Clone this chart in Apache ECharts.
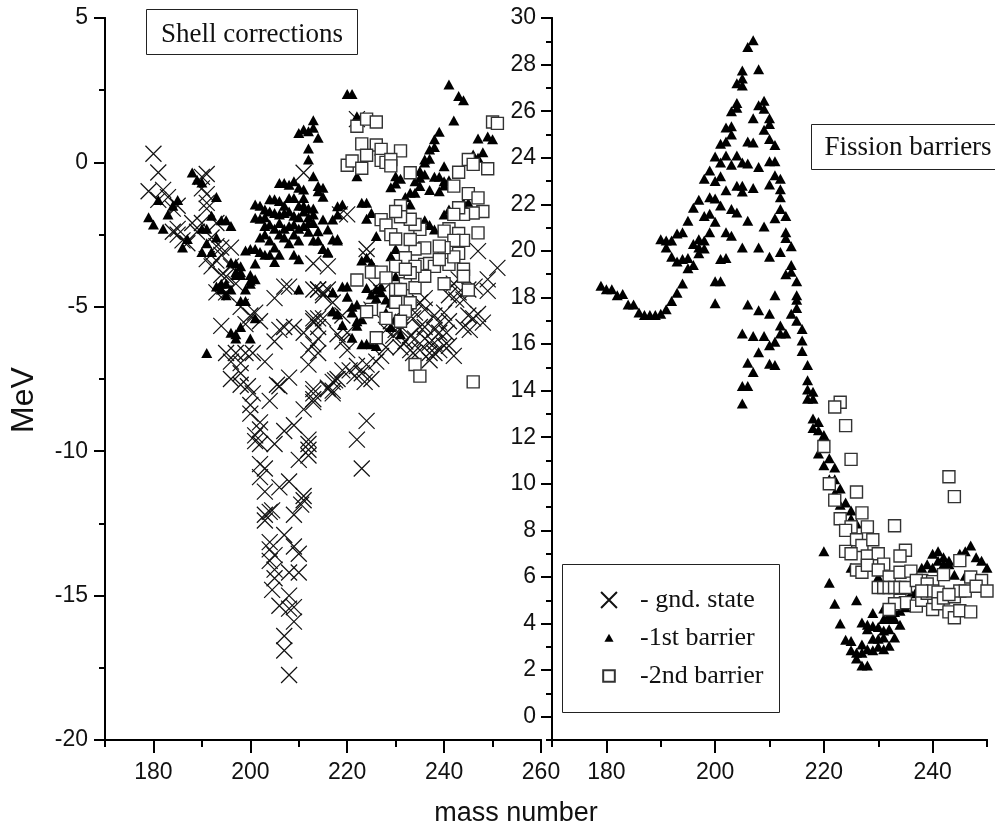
<!DOCTYPE html>
<html>
<head>
<meta charset="utf-8">
<style>html,body{margin:0;padding:0;background:#fff}#main{width:995px;height:825px}</style>
<script src="https://cdn.jsdelivr.net/npm/echarts@6/dist/echarts.min.js"></script>
</head>
<body>
<div id="main"></div>
<script>
// all points are [mass number, MeV]
var shellCross = [
[180,.3],[181,-.35],[179,-1],[182,-.95],[181,-1.3],[183,-1.2],[184,-1.6],[185,-1.5],[190,-.5],[191,-.4],[190,-.9],[191,-1.1],[191,-1.6],[191,-1.4],
[188,-2.1],[190,-2.1],[193,-2.1],[185,-2.5],[184,-2.4],[186,-2.7],[185,-2.3],[187,-2.8],[189,-2.4],[192,-2.6],[193,-2.9],
[191,-3.35],[192,-3.6],[194,-2.95],[196,-2.95],[193,-3.4],[194,-3.2],[195,-3.95],[193,-4.5],[195,-4.5],[194,-3.9],[196,-3.6],[197,-4.2],
[205,-4.7],[207,-4.3],[208,-4.3],[198,-5],[200,-5.3],[202,-5.5],[194,-5.66],[206,-5.8],[207,-5.7],[209,-5.7],[205,-6.2],[199,-5.6],[201,-5.2],
[195,-6.6],[197,-6.6],[199,-6.6],[200.5,-6.6],[196,-6.9],[203,-6.9],[198,-6.95],[198,-7.3],[196,-7.5],[198,-7.7],[199.5,-7.75],[200.5,-8],
[212,-7],[208,-7.45],[205.5,-7.7],[213,-7.85],[213,-8],[217,-7.6],[217,-7.9],[213,-3.5],[216,-3.6],[213,-4.4],[214,-4.4],[216,-4.4],[215,-4.6],
[214,-5.4],[215,-5.4],[213,-5.4],[219,-5.3],[211,-5.9],[214,-6.1],[214,-6.6],[213,-6.3],[212,-6.5],[220,-5.9],
[204,-8.26],[200,-8.4],[200,-8.7],[206,-7.75],[211,-8.55],[213,-8.2],[213,-8.3],[224,-8.95],[222,-9.6],[223,-10.6],[217,-8],[216,-7.8],
[202,-9],[202,-9.25],[201,-9.45],[201,-9.65],[202,-9.75],[205,-9.75],[207,-9.3],[209,-9.1],[212,-9.6],[212,-9.75],[212,-9.95],[210,-10.3],[212,-10.15],
[202,-10.45],[203,-10.6],[202,-10.9],[203,-11.4],[206,-11.25],[208,-11.05],[211,-11.55],[211,-11.7],[210.5,-11.85],[209,-12.2],[204,-12.1],[203,-12.2],[204.5,-12.05],[203,-12.4],
[204,-13.15],[207,-12.9],[209,-13.3],[210,-13.55],[204,-13.4],[204,-13.8],[205,-13.6],[205,-14.1],[205,-14.4],[204.5,-14.8],[208,-14.2],[210,-14.2],
[208,-15],[206,-15.35],[208,-15.45],[209,-15.4],[209,-15.9],[207,-16.4],[207,-16.9],[208,-17.75],
[211,-.36],[222,1.5],[218.5,-1.8],[220,-1.8],[224,-3.25],[224,-3.0],[247,-3.07],[251,-3.65],[249,-4.05],[249,-4.45],
[214,-4.4],[215,-4.5],[217,-4.85],[213,-5.5],[214,-5.7],[219,-6.2],[220,-6.5],[218,-5.95],[222,-7.05],[220.5,-7.2],[223,-7.3],[225,-7.5],[217.5,-7.55],[216,-7.85],
[219,-7.2],[218,-7.5],[221.5,-7.4],[223.6,-7.6],[227,-6.7],[228,-6.4],[229.5,-6],[231,-5.8],[226,-6.9],[224,-7],
[235,-4.85],[236,-5.1],[238,-5.3],[239,-5.55],[240.5,-5.9],[242,-6.7],[233.6,-5.4],[235,-5.7],[236,-5.7],[238,-5.8],[239,-5.9],[233,-6],[234,-6.1],[236,-6.1],
[237,-6.25],[238,-6.25],[240,-6.35],[241,-6.35],[233.6,-6.6],[235,-6.5],[237,-6.6],[238,-6.6],[239,-6.5],[233,-6.5],[237,-6.85],[240,-5.2],[241,-5.5],[234,-5.2],[236,-4.7],
[243,-4.05],[242,-4.2],[243,-4.5],[244,-4.75],[245,-4.4],[246.3,-4.3],[242.5,-4.75],[245,-5.3],[244,-5.7],[246,-5.4],[247,-5.25],[248,-5.55],[245.3,-5.8],[241,-4.6],
[227,-4.5],[226,-4.3],[228,-5.8],[230,-5.8],[232,-6.2],[231,-6.4],[229,-5.5],[225,-5.1]
];
var shellTri = [
[179,-1.9],[180,-2.15],[182,-2.3],[181,-1.3],[183,-1.8],[184,-1.5],[185,-1.3],[186,-2.95],[187,-2.65],[188,-.35],[189,-.6],[190,-.7],[193,-1.2],
[190,-2.3],[191,-2.3],[191,-2.8],[190,-3.1],[192,-1.85],[192,-3.1],[191,-6.6],[194,-2],[195,-2],[196,-2.2],[193,-2.6],
[194,-4.2],[195,-4.2],[196,-4.4],[195,-4.6],[197,-3.5],[198,-3.6],[198,-3.9],[197,-3.9],[199,-3.05],[200,-3],[201,-3],[202,-3.1],[203,-3.2],[201,-3.5],
[200,-3.9],[201,-4.05],[200,-4.2],[199,-4.4],[198,-4.8],[199,-4.8],[201,-5.4],[198,-5.7],[196,-5.9],[197,-5.95],[197,-6.1],[200,-6.1],
[196,-3.47],[197,-3.8],[198,-3.8],[193,-4.3],[194,-4.4],[204,-3.2],[206,-3.2],[205,-3.45],[209,-3.2],[210,-3.35],[204,-2.7],[205,-2.95],[208,-2.8],
[215,-3],[216,-3.1],[213,-2.7],[218,-2.7],[210,-4.4],[217,-4.5],[217,-5.15],[218,-5.26],[200,-4.1],
[213,1.46],[210,1.02],[211,1.14],[212,1.08],[213,1.2],[214,.85],[212,.48],[212,.1],[213,-.48],[206,-.71],[207,-.71],[208,-.77],[209,-.65],[210,-.88],[211,-.94],
[214,-.82],[215,-.88],[214,-1],[215,-1.19],[211,-1.5],[213,-1.8],[215,-1.98],[216,-2.32],[217,-1.98],[218,-1.52],[219,-1.46],[218,-1.8],[217,-2.67],[218,-2.65],
[215,-3],[216,-3.13],[214,-2.38],[212,-2.1],
[201,-1.46],[202,-1.5],[203,-1.63],[204,-1.28],[205,-1.28],[206,-1.34],[207,-1.5],[208,-1.23],[209,-1.23],[210,-1.5],[211,-1.23],[212,-1.6],
[201,-1.92],[202,-1.95],[203,-1.9],[204,-1.7],[205,-1.75],[206,-1.8],[207,-1.75],[208,-1.7],[209,-1.85],[210,-1.9],[211,-1.7],[212,-1.9],[213,-1.6],
[203,-2.2],[204,-2.15],[205,-2.3],[206,-2.1],[207,-2.3],[208,-2.2],[209,-2.15],[210,-2.3],[211,-2.2],[212,-2.4],[213,-2.1],[214,-2.7],
[202,-2.6],[203,-2.5],[206,-2.5],[207,-2.6],[209,-2.5],[210,-2.7],
[220,2.37],[221,2.37],[222,1.6],[223,-1.4],[224,-1.4],[225,-1.75],[224,-1.95],[226,-2.55],[223,-3.4],[224,-3.3],[225,-3.48],[229,-3.25],[230,-3],
[241,2.7],[243,2.3],[244,2.15],[242,1.45],[239,1.06],[238,.8],[238,.53],[237,.45],[236,.1],[237,.13],[236,0],[240,-.13],[247,.83],[249,.9],[250,.8],[248,.35],[246,.27],[247,.16],
[222,-.48],[229,-.86],[230,-.48],[230,-.73],[231,-.57],[233,-1.05],[232,-1.2],[234,-1.05],[235,-.3],[235,-.53],[236,-.42],[234,-.65],[235,-.82],[237,-.96],[238,-.5],[239,-.5],[239,-1],[240,-.65],[241,-.62],[240,-.8],
[233,-1.46],[236,-2],[237,-2.17],[238,-2.32],[240,-1.8],[241,-1.63],[244,-1.4],[245,-1.4],
[219,-4.3],[220,-4.3],[220,-4.65],[224,-4.35],[217,-4.5],[217,-5.15],[218,-5.26],[219,-5.63],[221,-5],[222,-4.92],[221,-5.2],[222,-5.5],[223,-5.43],[222,-5.66],[221,-6.07],
[223,-6.3],[224,-6.28],[225,-6.3],[226,-6.36],[226,-4.4],[227,-4.5],[225,-4.57],[226,-4.7],[228,-4.75],[227,-4.3],[230,-3.94],[229,-4.86],[231,-5.95],[230,-5.4],[228,-5.2],[229,-5.7]
];
var shellSquare = [
[222,1.25],[224,1.5],[226,1.4],[250,1.4],[251,1.35],[223,.64],[226,.6],[227,.45],[231,.4],[220,-.1],[221,.05],[224,.25],[223,-.2],[227,.07],[228,0],[229,.1],[229,-.12],
[233,-.36],[243,-.34],[245,.1],[246,-.07],[249,-.22],[242,-.82],[245,-1.08],[247,-1.23],[248,-1.7],[246,-1.75],[244,-1.8],[243,-1.57],[242,-1.8],[247,-2.44],[241,-2.3],[240,-2.38],
[243,-2.46],[244,-2.7],[242,-2.7],[241,-3.53],[243,-3.15],[242,-3.27],[240,-2.95],[239,-2.9],[236,-2.96],[234,-3],[235,-2.32],[234,-2.15],[233,-1.97],[231,-1.5],[231,-1.88],[230,-1.7],
[227,-1.98],[228,-2.17],[229,-2.5],[230,-2.65],[233,-2.67],[232,-3.3],[230,-3.6],[225,-3.8],[227,-3.8],[228,-4],[222,-4.07],[236,-3.53],[237,-3.5],[238,-3.6],[239,-3.36],[244,-3.7],[244,-3.94],
[240,-4.2],[245,-4.42],[232,-4.2],[234,-4.34],[236,-3.94],[234,-3.6],[233,-3.82],[232,-3.7],[230,-4.4],[231,-4.4],[233,-4.86],[230,-4.84],[232,-5.15],[225,-5.09],[224,-5.17],[228,-5.4],[231,-5.5],
[226,-6.07],[234,-7],[235,-7.4],[246,-7.6]
];
var fissionTri = [
[179,18.5],[180,18.35],[181,18.35],[182,18.1],[183,18.15],[184,17.7],[185,17.7],[186,17.35],[187,17.25],[188,17.25],[189,17.25],[190,17.3],[191,17.5],[192,17.85],[193,18.2],[194,18.6],
[190,20.5],[191,20.45],[192,20.45],[191,20.15],[193,20.75],[194,20.8],[192,19.75],[193,19.55],[194,19.65],[195,19.7],[195,19.25],[196,19.4],[196,20.3],[197,20.5],[198,20.45],[197,20.15],[198,20.1],[197,19.9],[199,20.8],
[195,21.3],[196,21.85],[197,22.2],[198,21.5],[199,21.6],[200,21.25],[199,22.3],[200,22.25],[201,21.95],[202,20.8],[203,20.65],[203,21.8],[204,21.65],[201,19.65],[202,19.7],[200,18.7],[201,18.7],[200,17.75],
[198,23.1],[199,23.45],[200,23],[201,23.2],[202,22.6],[200,24.05],[201,23.8],[202,24.1],[203,23.7],[204,24.1],[205,23.8],[206,23.75],[204,22.8],[205,22.8],[205,22.55],[207,22.7],[208,23.6],
[210,23.85],[211,23.85],[210,22.85],[211,23.25],[212,23.1],[212,22.65],[212,22.3],[212,21.8],[211,21.4],[213,21.5],[209,21.05],[206,21.3],[213,20.8],[213,20.55],[214,20.2],[212,19.95],[210,19.75],[208,20.15],[205,20.15],
[214,19.4],[214,19.1],[213,19],[215,18.7],[215,18.1],[215,17.9],[215,17.55],[214,17.3],[215,17],[216,16.65],[216,16.15],[216,15.7],[217,15.1],[217,14.45],[217,14.05],[218,13.95],[217,13.65],[218,13.65],
[218,12.8],[219,12.65],[218,12.4],[219,12.3],[220,12.1],
[207,29.05],[206,28.75],[205,27.75],[208,27.8],[205,27.4],[204,27.2],[205,27.1],[204,26.35],[204,26.15],[203,26],[208,26.25],[209,26.45],[209,26.1],[207,25.7],[210,25.7],[210,25.45],[209,25.2],
[202,25.3],[203,25.35],[203,25],[202,24.7],[201,24.6],[206,24.7],[207,24.65],[210,24.8],[211,24.55],
[211,18.1],[206,17.7],[208,17.45],[210,17.3],[205,16.45],[207,16.35],[209,16.35],[212,16.8],[212,16.45],[213,16.45],[211,16.1],[210,15.95],[208,15.65],[206,15.2],[210,15.15],[211,15.1],[207,14.8],[205,14.2],[206,14.2],[205,13.45],
[219,11.3],[220,11.6],[221,11.1],[220,10.8],[222,10.7],[221,10.2],[222,10.2],[223,9.8],[222,9.6],[224,9.2],[223,9.1],[225,8.85],[225,8.5],[226,8.3],[220,7.1],[225,6.4],[221,5.75],[222,4.85],[226,5],[223,4],
[224,3.3],[225,3.25],[225,2.85],[226,2.5],[226,2.75],[227,2.2],[228,2.2],[227,3.1],[228,2.9],[227,2.75],[229,2.85],[230,3],[231,2.9],[232,3.05],[229,3.35],[230,3.35],[231,3.4],[233,3.4],[228,3.75],[227,4.05],[228,3.95],[229,3.9],[230,3.85],[231,3.7],[232,3.75],[234,3.95],
[229,4.45],[231,4.2],[232,4.2],[233,4.2],[231,4.65],[232,4.4],[233,4.5],[234,4.55],[235,4.7],[236,5.3],[237,5.4],[238,5.5],
[238,6.4],[239,6.55],[240,7],[241,7.1],[242,6.85],[243,6.7],[244,6.1],[245,7],[246,7.1],[247,7.35],[248,6.85],[249,6.7],[250,6.4],[240,6.4],[241,6.7],[242,6.55],[243,6.55],[246,6.05],[230,6],[234,6.2]
];
var fissionSquare = [
[223,13.5],[222,13.3],[224,12.5],[225,11.05],[220,11.6],[221,10],[222,9.3],[226,9.65],[223,8.5],[227,8.75],[225,8.15],[224,8],[228,8.15],[233,8.2],[243,10.3],[244,9.45],
[226,7.6],[227,7.35],[229,7.6],[224,7.1],[225,7],[228,6.9],[230,7],[231,6.55],[235,7.15],[234,6.9],[226,6.3],[227,6.2],[228,6.5],[230,6.3],[232,6],[234,6.2],[236,6.25],[238,5.85],[240,5.8],[242,6.1],[245,6.7],[247,6],[249,5.85],
[230,5.55],[231,5.55],[232,5.55],[233,5.55],[234,5.55],[235,5.55],[237,5.85],[239,5.7],[234,5],[235,4.9],[233,4.85],[232,4.6],[237,4.75],[238,5],[239,5.3],[240,5.4],[240,4.6],[241,5.35],[241,4.85],[242,5.1],[243,4.5],[244,4.25],[244,5.15],[245,4.55],[247,4.5],[245,5.4],[246,5.4],[248,5.6],[250,5.4],[243,5.25],[238,5.4]
];

var leftTicksMajor = [180, 200, 220, 240, 260];
var leftTicksMinor = [170, 190, 210, 230, 250];
var rightTicksMajor = [180, 200, 220, 240];
var rightTicksMinor = [170, 190, 210, 230, 250];
var barrierTicksMajor = [0, 2, 4, 6, 8, 10, 12, 14, 16, 18, 20, 22, 24, 26, 28, 30];
var barrierTicksMinor = [-1, 1, 3, 5, 7, 9, 11, 13, 15, 17, 19, 21, 23, 25, 27, 29];

// 主刻度和次刻度长度不一样，所以同一个网格放两根轴
function makeAxis(grid, min, max, ticks, len, showLabel, pos, margin) {
    return {
        type: 'value',
        gridIndex: grid,
        min: min,
        max: max,
        position: pos,
        splitLine: { show: false },
        axisLine: { show: true, onZero: false, lineStyle: { color: '#000', width: 2 } },
        axisTick: { show: true, length: len, customValues: ticks, lineStyle: { color: '#000', width: 2 } },
        axisLabel: { show: showLabel, customValues: ticks, margin: margin, hideOverlap: false, showMinLabel: true, showMaxLabel: true, fontFamily: 'Liberation Sans', fontSize: 23, color: '#111' }
    };
}

var crossIcon = 'path://M0 0L16 16M16 0L0 16';
var triIcon = 'path://M5.5 0L11 10L0 10Z';
// 图例里的符号比图上的小，用空的moveto把包围盒撑大
var legendCross = 'path://M0 0M18 18M2.5 2.5L15.5 15.5M15.5 2.5L2.5 15.5';
var legendTri = 'path://M0 0M18 18M9 5.5L12.75 12L5.25 12Z';
var legendSquare = 'path://M0 0M18 18M4.25 4.25L13.75 4.25L13.75 13.75L4.25 13.75Z';

var crossStyle = { color: 'rgba(0,0,0,0)', borderColor: '#111', borderWidth: 1.2, opacity: 1 };
var triStyle = { color: '#000', opacity: 1 };
var squareStyle = { color: '#fff', borderColor: '#333', borderWidth: 1.4, opacity: 1 };

function makeSeries(name, data, grid, symbol, size, style, z) {
    return {
        name: name,
        type: 'scatter',
        xAxisIndex: grid,
        yAxisIndex: grid,
        data: data,
        symbol: symbol,
        symbolSize: size,
        itemStyle: style,
        silent: true,
        animation: false,
        z: z
    };
}

var option = {
    animation: false,
    backgroundColor: '#fff',
    grid: [
        { left: 105, top: 18, width: 436, height: 722 },
        { left: 552, top: 18, width: 435, height: 722 }
    ],
    xAxis: [
        makeAxis(0, 170, 260, leftTicksMajor, 13, true, 'bottom', 21),
        makeAxis(1, 170, 250, rightTicksMajor, 13, true, 'bottom', 21),
        makeAxis(0, 170, 260, leftTicksMinor, 7, false, 'bottom', 21),
        makeAxis(1, 170, 250, rightTicksMinor, 7, false, 'bottom', 21)
    ],
    yAxis: [
        makeAxis(0, -20, 5, [-20, -15, -10, -5, 0, 5], 11, true, 'left', 17),
        makeAxis(1, -1, 30, barrierTicksMajor, 11, true, 'left', 16),
        makeAxis(0, -20, 5, [-17.5, -12.5, -7.5, -2.5, 2.5], 6, false, 'left', 17),
        makeAxis(1, -1, 30, barrierTicksMinor, 6, false, 'left', 16)
    ],
    legend: {
        orient: 'vertical',
        left: 597,
        top: 587,
        z: 10,
        itemWidth: 22,
        itemHeight: 22,
        itemGap: 12,
        padding: 0,
        selectedMode: false,
        textStyle: { fontFamily: 'Liberation Serif', fontSize: 26, color: '#111', padding: [0, 0, 0, 15] },
        data: [
            { name: '- gnd. state', icon: legendCross },
            { name: '-1st barrier', icon: legendTri },
            { name: '-2nd barrier', icon: legendSquare }
        ]
    },
    graphic: [
        { type: 'rect', shape: { x: 146.5, y: 9.5, width: 211, height: 45 }, style: { fill: '#fff', stroke: '#222', lineWidth: 1 }, z: 5 },
        { type: 'text', x: 252, y: 35, style: { text: 'Shell corrections', fontFamily: 'Liberation Serif', fontSize: 27, fill: '#111', align: 'center', verticalAlign: 'middle' }, z: 6 },
        { type: 'rect', shape: { x: 811.5, y: 124.5, width: 190, height: 45 }, style: { fill: '#fff', stroke: '#222', lineWidth: 1 }, z: 5 },
        { type: 'text', x: 908, y: 148, style: { text: 'Fission barriers', fontFamily: 'Liberation Serif', fontSize: 27, fill: '#111', align: 'center', verticalAlign: 'middle' }, z: 6 },
        { type: 'rect', shape: { x: 562.5, y: 564.5, width: 217, height: 148 }, style: { fill: '#fff', stroke: '#222', lineWidth: 1 }, z: 5 },
        { type: 'text', x: 516, y: 814, style: { text: 'mass number', fontFamily: 'Liberation Sans', fontSize: 27, fill: '#111', align: 'center', verticalAlign: 'middle' }, z: 6 },
        { type: 'text', x: 24, y: 400, rotation: Math.PI / 2, style: { text: 'MeV', fontFamily: 'Liberation Sans', fontSize: 32, fill: '#111', align: 'center', verticalAlign: 'middle' }, z: 6 }
    ],
    series: [
        makeSeries('- gnd. state', shellCross, 0, crossIcon, 16, crossStyle, 2),
        makeSeries('-1st barrier', shellTri, 0, triIcon, [11, 10], triStyle, 3),
        makeSeries('-2nd barrier', shellSquare, 0, 'rect', 12, squareStyle, 4),
        makeSeries('-1st barrier', fissionTri, 1, triIcon, [11, 10], triStyle, 3),
        makeSeries('-2nd barrier', fissionSquare, 1, 'rect', 12, squareStyle, 4)
    ]
};

var myChart = echarts.init(document.getElementById('main'), null, { renderer: 'canvas' });
myChart.setOption(option);
</script>
</body>
</html>
